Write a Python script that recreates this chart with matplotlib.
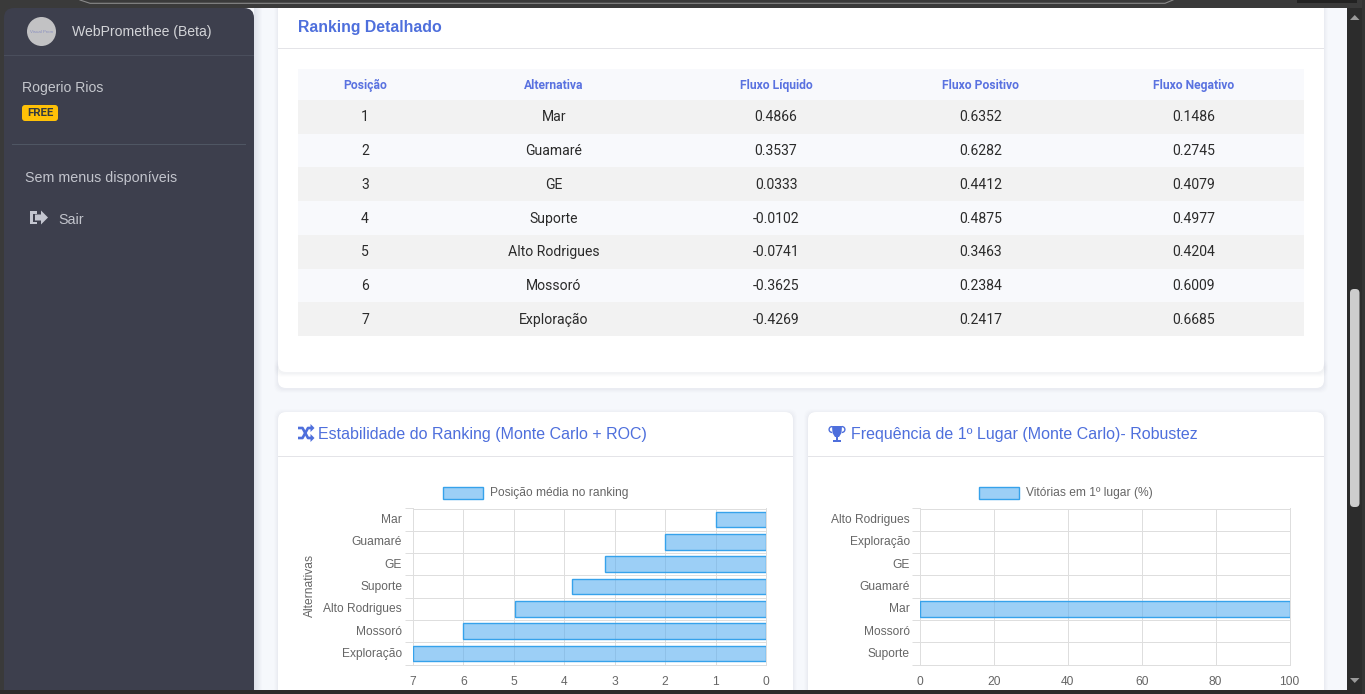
import matplotlib
matplotlib.use("Agg")
import matplotlib.pyplot as plt
from matplotlib.patches import Rectangle, FancyBboxPatch, Circle, Polygon, Wedge
from matplotlib.transforms import ScaledTranslation

W, H = 1365, 694
posicoes = [1, 2, 3, 4, 5, 6, 7]
alternativas = ["Mar", "Guamaré", "GE", "Suporte", "Alto Rodrigues", "Mossoró", "Exploração"]
fluxo_liquido = ["0.4866", "0.3537", "0.0333", "-0.0102", "-0.0741", "-0.3625", "-0.4269"]
fluxo_positivo = ["0.6352", "0.6282", "0.4412", "0.4875", "0.3463", "0.2384", "0.2417"]
fluxo_negativo = ["0.1486", "0.2745", "0.4079", "0.4977", "0.4204", "0.6009", "0.6685"]
cabecalhos = ["Posição", "Alternativa", "Fluxo Líquido", "Fluxo Positivo", "Fluxo Negativo"]

alt_estab = ["Mar", "Guamaré", "GE", "Suporte", "Alto Rodrigues", "Mossoró", "Exploração"]
pos_media = [1.0, 2.0, 3.2, 3.85, 4.97, 6.0, 7.0]
alt_freq = ["Alto Rodrigues", "Exploração", "GE", "Guamaré", "Mar", "Mossoró", "Suporte"]
vitorias = [0, 0, 0, 0, 100, 0, 0]

BLUE = "#4e6fdc"
HEAD = "#5a72e0"
GRID = "#dedede"
TICK = "#666666"
EDGE = "#36a2eb"
FILL = (0.357, 0.686, 0.941, 0.6)
SANS = "Liberation Sans"
px = 0.72

fig = plt.figure(figsize=(W / 100, H / 100), dpi=100, facecolor="#f6f8fc")
bg = fig.add_axes([0, 0, 1, 1])
bg.set_xlim(0, W)
bg.set_ylim(H, 0)
bg.axis("off")


def rect(x0, y0, x1, y1, c, z=1, **kw):
    bg.add_patch(Rectangle((x0, y0), x1 - x0, y1 - y0, fc=c, ec="none", zorder=z, **kw))


def card(x0, y0, x1, y1, r=8, z=2.0):
    for i, a in ((4, 0.008), (3, 0.012), (2, 0.016), (1, 0.02)):
        bg.add_patch(FancyBboxPatch((x0 + r - i, y0 + r - i + 1), x1 - x0 - 2 * r + 2 * i, y1 - y0 - 2 * r + 2 * i,
                                    boxstyle=f"round,pad={r},rounding_size={r}", fc="#3a4060", alpha=a, ec="none", zorder=z - 0.1))
    bg.add_patch(FancyBboxPatch((x0 + r, y0 + r), x1 - x0 - 2 * r, y1 - y0 - 2 * r,
                                boxstyle=f"round,pad={r},rounding_size={r}", fc="white", ec="none", zorder=z))


# cards
card(278, 362, 1324, 388, z=1.6)
card(278, -20, 1324, 372, z=2.0)
card(278, 412, 793, 720)
card(808, 412, 1324, 720)
rect(278, 48, 1324, 49, "#e4e4e8", 3)
rect(278, 456, 793, 457, "#e4e4e8", 3)
rect(808, 456, 1324, 457, "#e4e4e8", 3)

# sidebar shadow + sidebar
for i in range(8):
    rect(254 + i, 8, 255 + i, 694, "#8a8fa8", 1, alpha=0.2 * (1 - i / 8))
rect(0, 0, 30, 694, "#3a3a3a", 3)
bg.add_patch(FancyBboxPatch((14, 18), 230, 700, boxstyle="round,pad=10,rounding_size=10", fc="#3d3f4d", ec="none", zorder=4))
rect(4, 55, 254, 56, "#4a4e5c", 5)
rect(12, 144, 246, 145, "#4f5663", 5)
bg.add_patch(Circle((41.5, 31.5), 14.5, fc="#c2c2c4", ec="none", zorder=5))
bg.text(41.5, 31.5, "Visual Prom", fontsize=3.2, color="#8a8fc0", ha="center", va="center", family=SANS, zorder=6)
bg.text(72, 32, "WebPromethee (Beta)", fontsize=14 * px, color="#d3d4d8", va="center", family=SANS, zorder=6)
bg.text(22, 88, "Rogerio Rios", fontsize=14 * px, color="#c4c6cc", va="center", family=SANS, zorder=6)
bg.add_patch(FancyBboxPatch((24, 107), 32, 12, boxstyle="round,pad=2,rounding_size=3", fc="#ffc107", ec="none", zorder=5))
bg.text(40, 113.2, "FREE", fontsize=11.5 * px, color="#343a40", ha="center", va="center", family="Roboto", weight="bold", zorder=6)
bg.text(25, 178, "Sem menus disponíveis", fontsize=14.3 * px, color="#c2c4cc", va="center", family=SANS, zorder=6)
bg.text(58, 220, "Sair", fontsize=14.2 * px, color="#c2c4cc", va="center", family=SANS, zorder=6)
# logout icon
rect(30, 211, 37, 224, "#c4c6d0", 6)
rect(32.5, 213.5, 40, 221.5, "#3d3f4d", 6.1)
bg.add_patch(Polygon([(35, 214.5), (41, 214.5), (41, 210.5), (48, 217.5), (41, 224.5), (41, 220.5), (35, 220.5)],
                     fc="#c4c6d0", ec="none", zorder=6.2))

# top browser bar + bottom band + scrollbar
rect(0, 0, W, 8, "#3a3a3a", 7)
bg.plot([80, 90, 1165, 1173], [0, 3.3, 3.3, 0], color="#8a8a8a", lw=0.8, zorder=7.1)
rect(1297, 0, 1357, 3, "#222222", 7.1)
rect(0, 690, W, H, "#2c2c2c", 7)
rect(1347, 8, 1362, H, "#2c2c2c", 7)
rect(1362, 0, W, H, "#343434", 7)
bg.add_patch(FancyBboxPatch((1351.5, 290.5), 6.5, 215, boxstyle="round,pad=1.5,rounding_size=4", fc="#cdcdcd", ec="none", zorder=8))
bg.add_patch(Polygon([(1350, 678), (1359.5, 678), (1354.75, 683)], fc="#9a9a9a", ec="none", zorder=8))
bg.add_patch(Polygon([(1350, 20), (1359.5, 20), (1354.75, 15)], fc="#9a9a9a", ec="none", zorder=8))

# titles
bg.text(297.5, 27, "Ranking Detalhado", fontsize=15.9 * px, color=BLUE, weight="bold", va="center", family=SANS, zorder=6)
bg.text(318, 434, "Estabilidade do Ranking (Monte Carlo + ROC)", fontsize=16 * px, color=BLUE, va="center", family=SANS, zorder=6)
bg.text(851, 434, "Frequência de 1º Lugar (Monte Carlo)- Robustez", fontsize=16 * px, color=BLUE, va="center", family=SANS, zorder=6)

# shuffle icon
for (xs, ys) in (([298, 302.5, 308, 311], [428, 428, 438, 438]), ([298, 302.5, 308, 311], [438, 438, 428, 428])):
    bg.plot(xs, ys, color=BLUE, lw=1.9, zorder=6, solid_capstyle="butt")
for yy in (428, 438):
    bg.add_patch(Polygon([(310.5, yy - 4), (314.5, yy), (310.5, yy + 4)], fc=BLUE, ec="none", zorder=6))
# trophy icon
bg.add_patch(Polygon([(832, 426), (842, 426), (841.5, 433), (839, 437), (835, 437), (832.5, 433)], fc=BLUE, ec="none", zorder=6))
bg.add_patch(Wedge((832, 429.5), 3.6, 90, 270, width=1.4, fc=BLUE, ec="none", zorder=6))
bg.add_patch(Wedge((842, 429.5), 3.6, 270, 90, width=1.4, fc=BLUE, ec="none", zorder=6))
rect(835.8, 436, 838.2, 440, BLUE, 6)
rect(833, 439.5, 841, 442, BLUE, 6)

# table
col_centres = [365, 554, 776, 980.5, 1194]
rect(298, 69, 1304, 100, "#f8f9fc", 3)
for x, c in zip(col_centres, cabecalhos):
    bg.text(x, 85, c, fontsize=12.1 * px, color=HEAD, weight="bold", ha="center", va="center", family="Roboto", zorder=4)
row_h = 33.72
for i, row in enumerate(zip(posicoes, alternativas, fluxo_liquido, fluxo_positivo, fluxo_negativo)):
    y0 = 100 + i * row_h
    rect(298, y0, 1304, y0 + row_h, "#f2f2f2" if i % 2 == 0 else "#f8f9fc", 3)
    for x, v in zip(col_centres, row):
        bg.text(x, y0 + row_h / 2 + 0.6, str(v), fontsize=14 * px, color="#2b2b2b", ha="center", va="center", family="Roboto", zorder=4)


def chart(x0, x1, labels, values, xlim, xticks, legend, lx0, lx1, pad, ylabel=None):
    top, bottom = 508.5, 664.5
    ax = fig.add_axes([x0 / W, 1 - bottom / H, (x1 - x0) / W, (bottom - top) / H], zorder=5)
    ax.patch.set_alpha(0)
    ypos = list(range(len(labels)))
    shown = [(y, v) for y, v in zip(ypos, values) if v > 0]
    ax.barh([y for y, _ in shown], [v for _, v in shown], height=0.7, color=FILL, edgecolor=EDGE, linewidth=1.0, zorder=3)
    ax.set_ylim(len(labels) - 0.5, -0.5)
    ax.set_xlim(*xlim)
    ax.set_xticks(xticks)
    ax.set_yticks(ypos)
    ax.set_yticklabels(labels, fontfamily=SANS, fontsize=12 * px, color=TICK)
    ax.set_yticks([v - 0.5 for v in range(len(labels) + 1)], minor=True)
    ax.tick_params(axis="y", which="major", length=0, pad=pad)
    ax.tick_params(axis="y", which="minor", length=5.76, color=GRID, width=0.72)
    ax.tick_params(axis="x", length=0, pad=8.6, labelsize=12 * px, labelcolor=TICK)
    for t in ax.get_xticklabels():
        t.set_fontfamily(SANS)
    shift = ScaledTranslation(0, 1 / 100, fig.dpi_scale_trans)
    for t in ax.get_yticklabels():
        t.set_transform(t.get_transform() + shift)
    ax.grid(True, axis="x", which="major", color=GRID, lw=0.72)
    ax.grid(True, axis="y", which="minor", color=GRID, lw=0.72)
    ax.set_axisbelow(False)
    for s in ax.spines.values():
        s.set_color(GRID)
        s.set_linewidth(0.72)
    if ylabel:
        bg.text(309.5, 585.5, ylabel, rotation=90, fontsize=12 * px, color=TICK, ha="center", va="center", family=SANS, zorder=6)
    rect(lx0, 486.5, lx0 + 40, 499, FILL, 6)
    bg.add_patch(Rectangle((lx0, 486.5), 40, 12.5, fc="none", ec=EDGE, lw=1.0, zorder=6))
    bg.text(lx1, 492.5, legend, fontsize=12 * px, color=TICK, va="center", family=SANS, zorder=6)
    return ax


chart(413, 766, alt_estab, pos_media, (7, 0), [7, 6, 5, 4, 3, 2, 1, 0], "Posição média no ranking", 443, 489.5, 7.9, "Alternativas")
chart(920, 1289.5, alt_freq, vitorias, (0, 100), [0, 20, 40, 60, 80, 100], "Vitórias em 1º lugar (%)", 979, 1025.5, 7.2)

fig.savefig("out.png", dpi=100, facecolor=fig.get_facecolor())
